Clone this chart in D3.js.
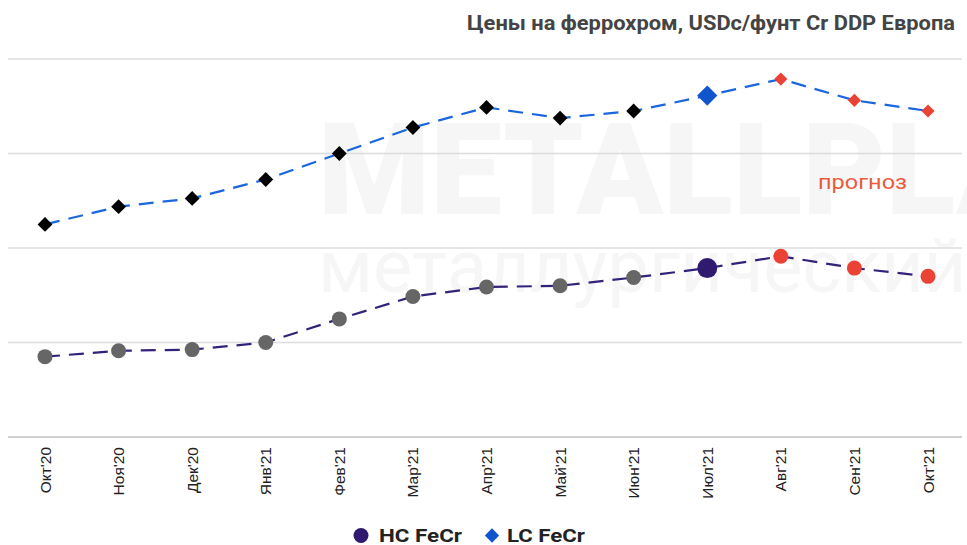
<!DOCTYPE html>
<html>
<head>
<meta charset="utf-8">
<script src="https://cdn.jsdelivr.net/npm/d3@7"></script>
<style>
  html, body { margin: 0; padding: 0; background: #fff; }
  svg { display: block; }
</style>
</head>
<body>
<div id="chart"></div>
<script>
// Данные графика
const months = ["Окт'20", "Ноя'20", "Дек'20", "Янв'21", "Фев'21", "Мар'21", "Апр'21",
                "Май'21", "Июн'21", "Июл'21", "Авг'21", "Сен'21", "Окт'21"];
const hcFeCr = [114, 116.5, 117, 120, 130, 139.5, 143.5, 144, 147.5, 151.5, 156.5, 151.5, 148];
const lcFeCr = [170, 177.5, 181, 189, 200, 211, 219.5, 215, 218, 224.5, 231.5, 222.5, 218];
// тип точки: факт / текущий / прогноз
const pointKind = ['f', 'f', 'f', 'f', 'f', 'f', 'f', 'f', 'f', 'c', 'p', 'p', 'p'];
const yTicks = [80, 120, 160, 200, 240];

const width = 967, height = 545;
const margin = { top: 59, right: 39, bottom: 108, left: 45 };

const svg = d3.select('#chart').append('svg')
    .attr('width', width)
    .attr('height', height);

// водяной знак
svg.append('text')
    .attr('x', 318).attr('y', 214)
    .attr('font-family', 'Roboto, sans-serif')
    .attr('font-weight', 900)
    .attr('font-size', 128)
    .attr('fill', '#f6f6f6')
    .text('METALLPLANT');
svg.append('text')
    .attr('x', 318).attr('y', 292)
    .attr('font-family', 'Roboto, sans-serif')
    .attr('font-size', 74)
    .attr('fill', '#f6f6f6')
    .text('металлургический');

const x = d3.scalePoint()
    .domain(months)
    .range([margin.left, width - margin.right]);

const y = d3.scaleLinear()
    .domain([80, 240])
    .range([height - margin.bottom, margin.top]);

// сетка
svg.append('g')
    .selectAll('line')
    .data(yTicks)
    .enter()
    .append('line')
    .attr('x1', 8)
    .attr('x2', 962)
    .attr('y1', d => y(d))
    .attr('y2', d => y(d))
    .attr('stroke', (d, i) => i === 0 ? '#d0d0d0' : '#dcdcdc')
    .attr('stroke-width', (d, i) => i === 0 ? 2 : 1.5);

// подписи месяцев
svg.append('g')
    .selectAll('text')
    .data(months)
    .enter()
    .append('text')
    .attr('transform', d => `translate(${x(d) + 5.5},${y(80) + 10}) rotate(-90)`)
    .attr('text-anchor', 'end')
    .attr('font-family', '"Liberation Sans", Arial, sans-serif')
    .attr('font-size', 15.5)
    .attr('fill', '#222')
    .text(d => d);

const line = d3.line()
    .x((d, i) => x(months[i]))
    .y(d => y(d));

svg.append('path')
    .datum(hcFeCr)
    .attr('d', line)
    .attr('fill', 'none')
    .attr('stroke', '#34217a')
    .attr('stroke-width', 2.2)
    .attr('stroke-dasharray', '15,9');

svg.append('path')
    .datum(lcFeCr)
    .attr('d', line)
    .attr('fill', 'none')
    .attr('stroke', '#1a66dd')
    .attr('stroke-width', 2.2)
    .attr('stroke-dasharray', '15,9');

const red = '#ea4335';
const hcColor = { f: '#666666', c: '#2f1a6f', p: red };
const lcColor = { f: '#000000', c: '#1155cc', p: red };

// точки HC FeCr
svg.append('g')
    .selectAll('circle')
    .data(hcFeCr)
    .enter()
    .append('circle')
    .attr('cx', (d, i) => x(months[i]))
    .attr('cy', d => y(d))
    .attr('r', (d, i) => pointKind[i] === 'c' ? 10 : 7.5)
    .attr('fill', (d, i) => hcColor[pointKind[i]]);

// точки LC FeCr
const diamond = d3.symbol().type(d3.symbolDiamond2);
svg.append('g')
    .selectAll('path')
    .data(lcFeCr)
    .enter()
    .append('path')
    .attr('transform', (d, i) => `translate(${x(months[i])},${y(d)})`)
    .attr('d', (d, i) => diamond.size(pointKind[i] === 'c' ? 260 : pointKind[i] === 'p' ? 110 : 140)())
    .attr('fill', (d, i) => lcColor[pointKind[i]]);

// подпись прогноза
svg.append('text')
    .attr('x', 818)
    .attr('y', 189)
    .attr('font-family', 'Roboto, sans-serif')
    .attr('font-size', 20)
    .attr('textLength', 89)
    .attr('lengthAdjust', 'spacingAndGlyphs')
    .attr('fill', '#ec5a3c')
    .text('прогноз');

// заголовок
svg.append('text')
    .attr('x', 467)
    .attr('y', 30)
    .attr('font-family', 'Roboto, sans-serif')
    .attr('font-weight', 'bold')
    .attr('font-size', 19.5)
    .attr('textLength', 488)
    .attr('lengthAdjust', 'spacingAndGlyphs')
    .attr('fill', '#444')
    .text('Цены на феррохром, USDc/фунт Cr DDP Европа');

// легенда
const legend = svg.append('g');
legend.append('circle')
    .attr('cx', 361).attr('cy', 535.5).attr('r', 7.5)
    .attr('fill', '#2f1a6f');
legend.append('text')
    .attr('x', 379).attr('y', 542)
    .attr('font-family', 'Roboto, sans-serif')
    .attr('font-weight', 'bold')
    .attr('font-size', 18)
    .attr('textLength', 83)
    .attr('lengthAdjust', 'spacingAndGlyphs')
    .attr('fill', '#222')
    .text('HC FeCr');
legend.append('path')
    .attr('transform', 'translate(492,535.5)')
    .attr('d', d3.symbol().type(d3.symbolDiamond2).size(130)())
    .attr('fill', '#1155cc');
legend.append('text')
    .attr('x', 507).attr('y', 542)
    .attr('font-family', 'Roboto, sans-serif')
    .attr('font-weight', 'bold')
    .attr('font-size', 18)
    .attr('textLength', 78)
    .attr('lengthAdjust', 'spacingAndGlyphs')
    .attr('fill', '#222')
    .text('LC FeCr');
</script>
</body>
</html>
